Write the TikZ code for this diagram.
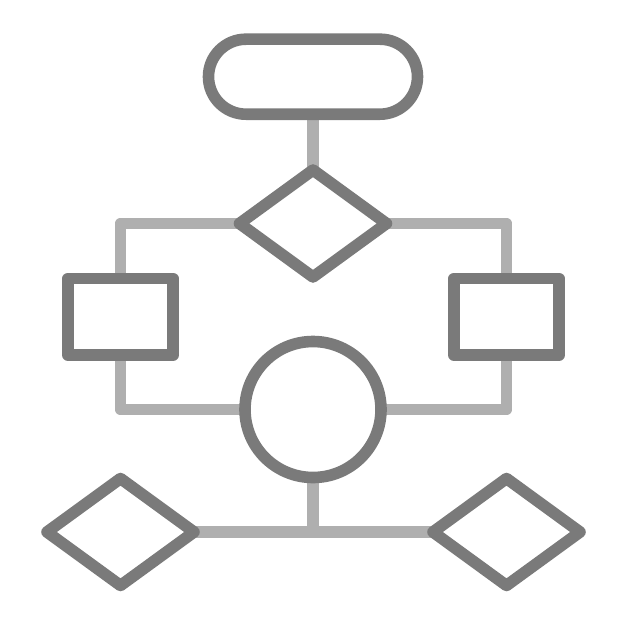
\documentclass[tikz,border=0pt]{standalone}
\usetikzlibrary{shapes.geometric,backgrounds}
\definecolor{shapegray}{HTML}{7A7A7A}
\definecolor{linkgray}{HTML}{AFAFAF}
\tikzset{
  shp/.style={draw=shapegray, line width=11.6pt, line join=round, fill=white, inner sep=0pt, outer sep=0pt},
  stadium/.style={shp, rectangle, rounded corners=37.5pt, minimum width=209pt, minimum height=75pt},
  dmd/.style={shp, diamond, minimum width=147pt, minimum height=107pt},
  boxn/.style={shp, rectangle, minimum width=105pt, minimum height=76.5pt},
  circn/.style={shp, circle, minimum size=136pt},
  link/.style={draw=linkgray, line width=11.4pt, line join=round, line cap=butt}
}
\begin{document}
\begin{tikzpicture}[x=1pt,y=-1pt]
\useasboundingbox (0,0) rectangle (626,626);
\node[stadium] (start) at (313,76.7) {};
\node[dmd] (d1) at (313,223.5) {};
\node[boxn] (r1) at (120.5,316.8) {};
\node[boxn] (r2) at (506.5,316.8) {};
\node[circn] (c) at (313,409.5) {};
\node[dmd] (d2) at (120.5,532) {};
\node[dmd] (d3) at (506.5,532) {};
\begin{scope}[on background layer]
\fill[white] (0,0) rectangle (626,626);
\draw[link] (start.south) -- (d1.north);
\draw[link] (d1.west) -| (r1.north);
\draw[link] (d1.east) -| (r2.north);
\draw[link] (r1.south) |- (c.west);
\draw[link] (r2.south) |- (c.east);
\draw[link] (d2.east) -- (d3.west);
\draw[link] (c.south) -- (c.south |- d2.east);
\end{scope}
\end{tikzpicture}
\end{document}
